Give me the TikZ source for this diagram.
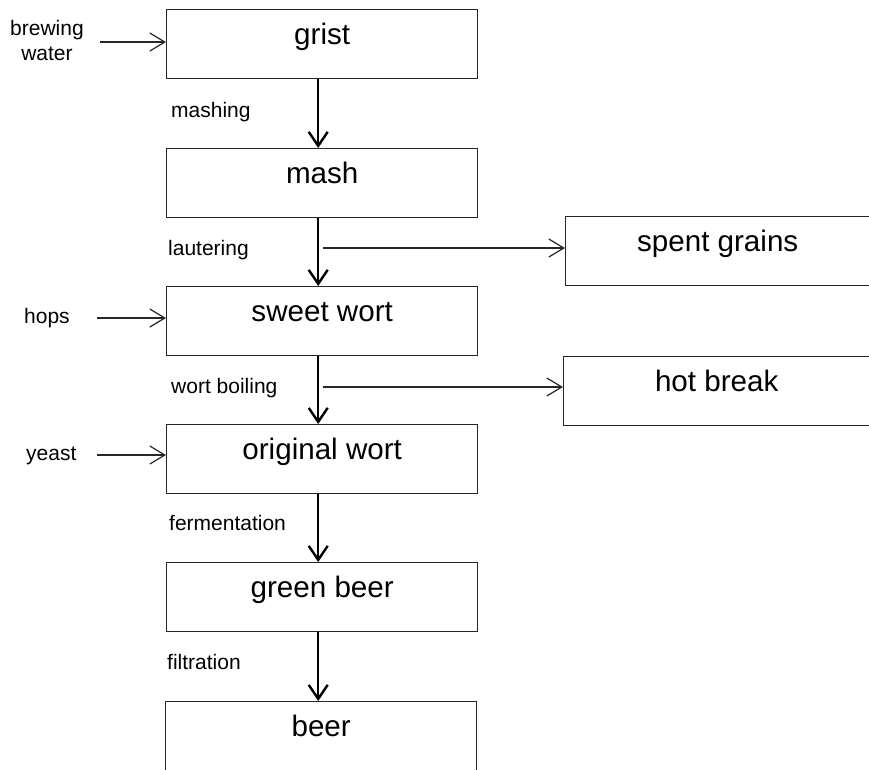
\documentclass[tikz,border=0pt]{standalone}
\usepackage{fontspec}
\setmainfont{Liberation Sans}
\usetikzlibrary{arrows.meta}
\begin{document}
\begin{tikzpicture}[x=1pt,y=-1pt,
  box/.style={draw=black!85,line width=1.4pt,rectangle,inner sep=0pt,anchor=north west,
    minimum width=#1,text height=35pt,text depth=34pt,font=\fontsize{29.6}{34}\selectfont},
  box/.default=311pt,
  lbl/.style={anchor=base west,inner sep=0pt,font=\fontsize{21}{25}\selectfont},
  flow/.style={line width=2.4pt,-{Straight Barb[length=14pt,width=19pt,line width=2.4pt]}},
  feed/.style={line width=1.2pt,draw=black!85,-{Straight Barb[length=15pt,width=18pt,line width=1.2pt]}}]
\useasboundingbox (0,0) rectangle (869,769);
\fill[white] (0,0) rectangle (869,769);
% main boxes
\node[box] (grist) at (166,9) {grist};
\node[box] (mash) at (166,148) {mash};
\node[box] (sweet) at (166,286) {sweet wort};
\node[box] (orig) at (166,424) {original wort};
\node[box] (green) at (166,562) {green beer};
\node[box] (beer) at (165,701) {beer};
% side boxes
\node[box=304pt] (spent) at (565,216) {spent grains};
\node[box=306pt] (hot) at (563,356) {hot break};
% vertical flow
\draw[flow] ([xshift=-4pt]grist.south) -- ([xshift=-4pt]mash.north);
\draw[flow] ([xshift=-4pt]mash.south) -- ([xshift=-4pt]sweet.north);
\draw[flow] ([xshift=-4pt]sweet.south) -- ([xshift=-4pt]orig.north);
\draw[flow] ([xshift=-4pt]orig.south) -- ([xshift=-4pt]green.north);
\draw[flow] ([xshift=-4pt]green.south) -- ([xshift=-4pt]green.south |- beer.north);
% process labels
\node[lbl] (lmash) at (171,117) {mashing};
\node[lbl] (llaut) at (168,255) {lautering};
\node[lbl] (lboil) at (171,393) {wort boiling};
\node[lbl] (lferm) at (169,530) {fermentation};
\node[lbl] (lfilt) at (167,669) {filtration};
% side outputs
\coordinate (s1) at (323,248);
\coordinate (s2) at (323,387);
\draw[feed] (s1) -- (s1 -| spent.west);
\draw[feed] (s2) -- (s2 -| hot.west);
% inputs
\node[anchor=base,inner sep=0pt,align=center,font=\fontsize{21}{25}\selectfont] (water) at (47,60) {brewing\\water};
\node[anchor=base west,inner sep=0pt,font=\fontsize{21}{25}\selectfont] (hops) at (24,323) {hops};
\node[anchor=base west,inner sep=0pt,font=\fontsize{21}{25}\selectfont] (yeast) at (26,460) {yeast};
\coordinate (i1) at (100,42);
\coordinate (i2) at (97,318);
\coordinate (i3) at (97,455);
\draw[feed] (i1) -- (i1 -| grist.west);
\draw[feed] (i2) -- (i2 -| sweet.west);
\draw[feed] (i3) -- (i3 -| orig.west);
\end{tikzpicture}
\end{document}
